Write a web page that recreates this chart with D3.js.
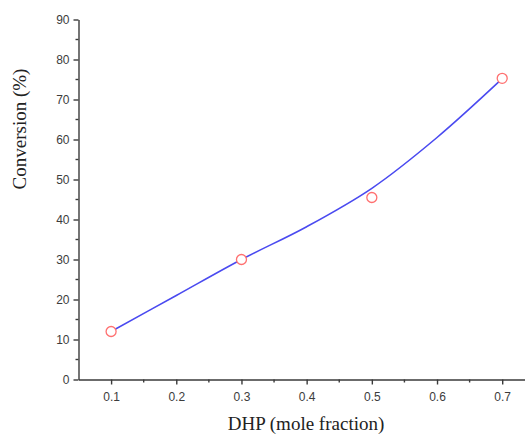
<!DOCTYPE html>
<html>
<head>
<meta charset="utf-8">
<script src="https://cdnjs.cloudflare.com/ajax/libs/d3/7.8.5/d3.min.js"></script>
<style>
  body { margin: 0; background: #fff; }
  svg { display: block; }
</style>
</head>
<body>
<svg id="chart" width="525" height="434"></svg>
<script>
// measured points (DHP mole fraction vs conversion %)
var dhp = [0.1, 0.3, 0.5, 0.7];
var conversion = [12, 30, 45.5, 75.3];

// fitted curve
var fitX = [0.1, 0.2, 0.3, 0.4, 0.5, 0.6, 0.7];
var fitY = [12, 21, 30, 38.2, 47.8, 60.5, 75.2];

var xTicks = [0.1, 0.2, 0.3, 0.4, 0.5, 0.6, 0.7];
var yTicks = [0, 10, 20, 30, 40, 50, 60, 70, 80, 90];

var svg = d3.select('#chart');

// plot area
var plot = { left: 78.5, bottom: 379.5, top: 19.5, right: 534.8 };

var x = d3.scaleLinear().domain([0.05, 0.75]).range([plot.left, plot.right]);
var y = d3.scaleLinear().domain([0, 90]).range([plot.bottom, plot.top]);

var axisColor = '#3a3a3a';
var tickFont = '"Liberation Sans", Arial, sans-serif';

// Y axis
var yAxis = d3.axisLeft(y).tickValues(yTicks).tickSize(5).tickPadding(4).tickSizeOuter(0);
var gy = svg.append('g')
    .attr('transform', 'translate(' + plot.left + ',0)')
    .call(yAxis);
// minor ticks
gy.selectAll('.minor')
    .data(d3.range(5, 90, 10))
    .enter()
    .append('line')
    .attr('class', 'minor')
    .attr('x1', 0).attr('x2', -3)
    .attr('y1', d => y(d)).attr('y2', d => y(d));

// X axis
var xAxis = d3.axisBottom(x).tickValues(xTicks).tickFormat(d3.format('.1f'))
    .tickSize(5).tickPadding(8).tickSizeOuter(0);
var gx = svg.append('g')
    .attr('transform', 'translate(0,' + plot.bottom + ')')
    .call(xAxis);
gx.selectAll('.minor')
    .data([0.15, 0.25, 0.35, 0.45, 0.55, 0.65])
    .enter()
    .append('line')
    .attr('class', 'minor')
    .attr('y1', 0).attr('y2', 3)
    .attr('x1', d => x(d)).attr('x2', d => x(d));

[gx, gy].forEach(function (g) {
    g.selectAll('path, line').attr('stroke', axisColor).attr('stroke-width', 1.4);
    g.selectAll('text')
        .attr('fill', '#3c3c3c')
        .style('font-family', tickFont)
        .style('font-size', '12px');
});

// fitted curve
var fit = fitX.map((d, i) => [d, fitY[i]]);
var line = d3.line()
    .x(d => x(d[0]))
    .y(d => y(d[1]))
    .curve(d3.curveCatmullRom);

svg.append('path')
    .datum(fit)
    .attr('d', line)
    .attr('fill', 'none')
    .attr('stroke', '#4a4af0')
    .attr('stroke-width', 1.6);

// data points
svg.selectAll('.pt')
    .data(dhp)
    .enter()
    .append('circle')
    .attr('class', 'pt')
    .attr('cx', d => x(d))
    .attr('cy', (d, i) => y(conversion[i]))
    .attr('r', 5)
    .attr('fill', '#fff')
    .attr('stroke', '#ff7070')
    .attr('stroke-width', 1.3);

// axis titles
svg.append('text')
    .attr('x', 306)
    .attr('y', 430)
    .attr('text-anchor', 'middle')
    .style('font-family', '"Liberation Serif", "Times New Roman", serif')
    .style('font-size', '19px')
    .attr('fill', '#222')
    .text('DHP (mole fraction)');

svg.append('text')
    .attr('transform', 'translate(26,129) rotate(-90)')
    .attr('text-anchor', 'middle')
    .style('font-family', '"Liberation Serif", "Times New Roman", serif')
    .style('font-size', '19px')
    .attr('fill', '#222')
    .text('Conversion (%)');
</script>
</body>
</html>
